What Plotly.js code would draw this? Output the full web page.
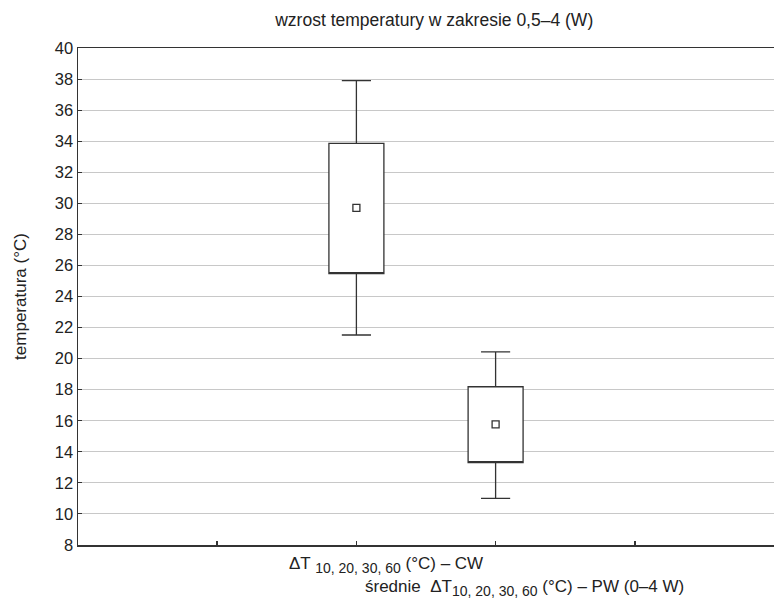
<!DOCTYPE html>
<html>
<head>
<meta charset="utf-8">
<script src="https://cdn.plot.ly/plotly-3.0.1.min.js"></script>
<style>html,body{margin:0;padding:0;background:#fff;}#chart{width:774px;height:599px;}</style>
</head>
<body>
<div id="chart"></div>
<script>
// Data
var positions = [2, 3];
var means = [29.7, 15.77];
var boxLow = [25.47, 13.3];
var boxHigh = [33.86, 18.19];
var whiskerLow = [21.52, 11.0];
var whiskerHigh = [37.9, 20.44];
var yTicks = [8,10,12,14,16,18,20,22,24,26,28,30,32,34,36,38,40];
var xTicks = [1, 2, 3, 4];
var subText = '<sub><span style="font-size:14px">10, 20, 30, 60</span></sub>';
var labelLine1 = 'ΔT ' + subText + ' (°C) – CW';
var labelLine2 = 'średnie  ΔT' + subText + ' (°C) – PW (0–4 W)';
var titleText = 'wzrost temperatury w zakresie 0,5–4 (W)';
var yTitle = 'temperatura (°C)';

var font = 'Liberation Sans, Arial, sans-serif';
var dark = '#333333';
var txt = '#222222';

var boxTrace = {
  type: 'box',
  x: positions,
  q1: boxLow,
  median: boxLow,
  q3: boxHigh,
  lowerfence: whiskerLow,
  upperfence: whiskerHigh,
  width: 0.395,
  whiskerwidth: 0.53,
  fillcolor: 'rgba(255,255,255,1)',
  line: {color: dark, width: 1.3},
  boxpoints: false,
  hoverinfo: 'skip',
  showlegend: false
};
var meanTrace = {
  type: 'scatter',
  mode: 'markers',
  x: positions,
  y: means,
  marker: {symbol: 'square-open', size: 7, color: dark, line: {width: 1.3, color: dark}},
  showlegend: false,
  hoverinfo: 'skip'
};

var layout = {
  width: 774,
  height: 599,
  margin: {l: 78, r: 0, t: 48, b: 54},
  paper_bgcolor: '#fff',
  plot_bgcolor: '#fff',
  font: {family: font, size: 16, color: txt},
  title: {text: titleText, font: {family: font, size: 17.5, color: txt}, x: 0.561, xanchor: 'center', y: 0.966, yanchor: 'middle'},
  xaxis: {
    range: [0, 5],
    tickvals: xTicks,
    ticktext: ['', '', '', ''],
    ticks: 'inside',
    ticklen: 4,
    tickwidth: 1.5,
    tickcolor: dark,
    showgrid: false,
    zeroline: false,
    showline: true,
    linecolor: dark,
    linewidth: 1.5,
    mirror: true,
    fixedrange: true
  },
  yaxis: {
    range: [8, 40],
    tickvals: yTicks,
    ticks: 'inside',
    ticklen: 4,
    tickwidth: 1,
    tickcolor: dark,
    tickfont: {family: font, size: 16.5, color: txt},
    showgrid: true,
    gridcolor: '#c8c8c8',
    gridwidth: 1,
    zeroline: false,
    showline: true,
    linecolor: dark,
    linewidth: 1.5,
    title: {text: yTitle, font: {family: font, size: 17, color: txt}, standoff: 24},
    fixedrange: true
  },
  annotations: [
    {xref: 'x', yref: 'paper', x: 1.5, y: -0.040, xanchor: 'left', yanchor: 'middle', text: labelLine1, showarrow: false, font: {family: font, size: 17, color: txt}},
    {xref: 'x', yref: 'paper', x: 2.05, y: -0.086, xanchor: 'left', yanchor: 'middle', text: labelLine2, showarrow: false, font: {family: font, size: 17, color: txt}}
  ]
};

Plotly.newPlot('chart', [boxTrace, meanTrace], layout, {displayModeBar: false, staticPlot: true});
</script>
</body>
</html>
